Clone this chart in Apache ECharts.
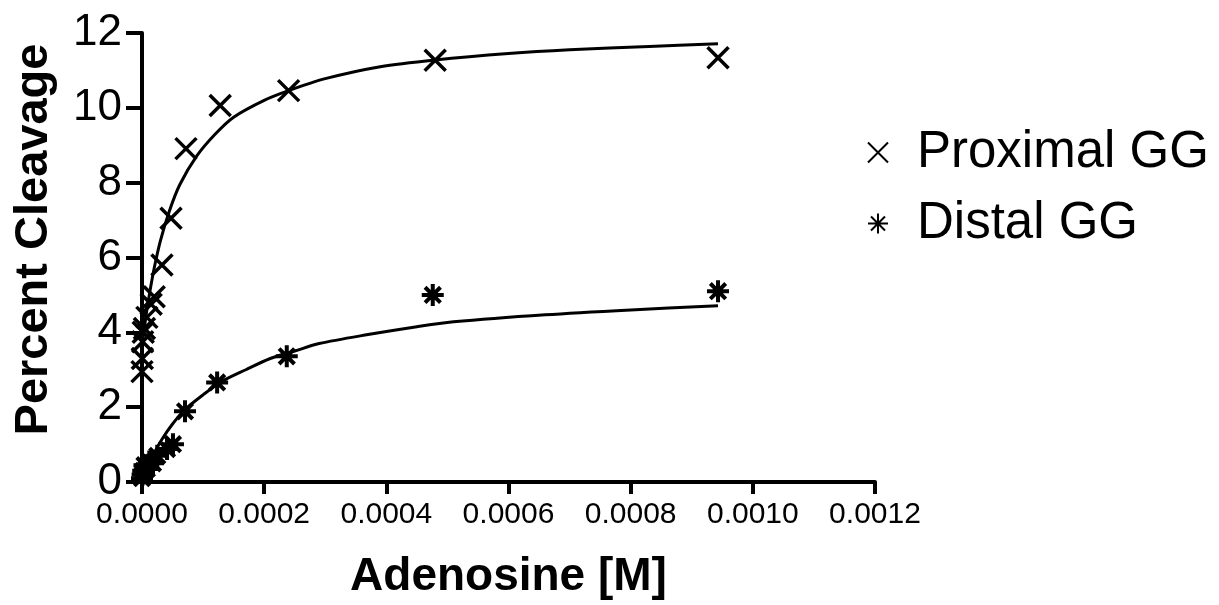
<!DOCTYPE html>
<html>
<head>
<meta charset="utf-8">
<style>
  html, body { margin: 0; padding: 0; background: #fff; }
  #chart { width: 1219px; height: 605px; }
</style>
<script src="https://cdn.jsdelivr.net/npm/echarts@6/dist/echarts.min.js"></script>
</head>
<body>
<div id="chart"></div>
<script>
// Adenosine concentration (M) and percent cleavage, measured points
const proximalX = [0, 0.0000005, 0.000001, 0.000002, 0.000004, 0.000008, 0.000015, 0.00002, 0.0000327, 0.0000475, 0.000072, 0.000128, 0.00024, 0.00048, 0.000943];
const proximalY = [2.95, 3.3, 3.75, 4.0, 4.1, 4.4, 4.75, 4.95, 5.8, 7.05, 8.91, 10.06, 10.46, 11.27, 11.34];

const distalX = [0, 0.000001, 0.000002, 0.000004, 0.000008, 0.000012, 0.000018, 0.000025, 0.000041, 0.0000507, 0.0000704, 0.000123, 0.000237, 0.000476, 0.000943];
const distalY = [0.1, 0.2, 0.3, 0.45, 0.35, 0.55, 0.5, 0.7, 0.88, 1.01, 1.89, 2.66, 3.36, 5.0, 5.1];

// Saturation fit curves
const proximalFitX = [0, 0.000004, 0.000008, 0.000013, 0.00002, 0.00003, 0.000045, 0.000062, 0.00009, 0.00012, 0.00015, 0.0002, 0.00024, 0.0003, 0.00039, 0.00048, 0.0006, 0.0007, 0.00083, 0.000943];
const proximalFitY = [3.6, 4.13, 4.6, 5.1, 5.72, 6.44, 7.25, 7.95, 8.72, 9.3, 9.75, 10.2, 10.46, 10.78, 11.1, 11.28, 11.45, 11.55, 11.64, 11.71];

const distalFitX = [0, 0.000005, 0.00001, 0.00002, 0.000033, 0.00005, 0.00007, 0.0001, 0.00013, 0.00017, 0.00021, 0.00025, 0.00029, 0.00037, 0.00045, 0.00051, 0.00066, 0.0008, 0.000943];
const distalFitY = [0, 0.22, 0.42, 0.78, 1.15, 1.55, 1.93, 2.33, 2.68, 3.0, 3.3, 3.5, 3.7, 3.94, 4.15, 4.28, 4.47, 4.6, 4.71];

const xTicks = { min: 0, max: 0.0012, interval: 0.0002 };
const yTicks = { min: 0, max: 12, interval: 2 };

const pairs = (xs, ys) => xs.map((x, i) => [x, ys[i]]);

const CROSS = 'path://M0 0 L10 10 M10 0 L0 10';
const STAR = 'path://M5 0 L5 10 M0 5 L10 5 M1.5 1.5 L8.5 8.5 M8.5 1.5 L1.5 8.5';
const FONT = 'Arial, "Liberation Sans", sans-serif';

const chart = echarts.init(document.getElementById('chart'), null, { renderer: 'canvas' });

chart.setOption({
  animation: false,
  backgroundColor: '#fff',
  textStyle: { fontFamily: FONT, color: '#000' },
  grid: { left: 142, right: 344, top: 33, bottom: 122, containLabel: false },
  legend: {
    data: ['Proximal GG', 'Distal GG'],
    orient: 'vertical',
    left: 862,
    top: 122,
    itemWidth: 20,
    itemHeight: 20,
    itemGap: 20,
    textStyle: { fontFamily: FONT, fontSize: 51, color: '#000', padding: [0, 0, 0, 24] },
    selectedMode: false
  },
  xAxis: {
    type: 'value',
    min: xTicks.min, max: xTicks.max, interval: xTicks.interval,
    name: 'Adenosine [M]',
    nameLocation: 'middle',
    nameGap: 72,
    nameTextStyle: { fontFamily: FONT, fontSize: 46, fontWeight: 'bold', color: '#000' },
    axisLine: { show: true, onZero: false, lineStyle: { color: '#000', width: 4 } },
    axisTick: { show: true, inside: false, length: 12, lineStyle: { color: '#000', width: 4 } },
    axisLabel: { fontFamily: FONT, fontSize: 30, color: '#000', margin: 18,
                 formatter: v => v.toFixed(4) },
    splitLine: { show: false }
  },
  yAxis: {
    type: 'value',
    min: yTicks.min, max: yTicks.max, interval: yTicks.interval,
    name: 'Percent Cleavage',
    nameLocation: 'middle',
    nameGap: 84,
    nameRotate: 90,
    nameTextStyle: { fontFamily: FONT, fontSize: 47, fontWeight: 'bold', color: '#000', padding: [0, 0, 0, 36] },
    axisLine: { show: true, onZero: false, lineStyle: { color: '#000', width: 4 } },
    axisTick: { show: true, inside: false, length: 16, lineStyle: { color: '#000', width: 4 } },
    axisLabel: { fontFamily: FONT, fontSize: 44, color: '#000', margin: 20 },
    splitLine: { show: false }
  },
  series: [
    {
      name: 'Proximal fit',
      type: 'line',
      data: pairs(proximalFitX, proximalFitY),
      smooth: 0.3,
      showSymbol: false,
      symbol: 'none',
      lineStyle: { color: '#000', width: 3 },
      z: 2
    },
    {
      name: 'Distal fit',
      type: 'line',
      data: pairs(distalFitX, distalFitY),
      smooth: 0.3,
      showSymbol: false,
      symbol: 'none',
      lineStyle: { color: '#000', width: 3 },
      z: 2
    },
    {
      name: 'Proximal GG',
      type: 'scatter',
      data: pairs(proximalX, proximalY),
      symbol: CROSS,
      symbolSize: 21,
      itemStyle: { color: 'transparent', borderColor: '#000', borderWidth: 3.5, opacity: 1 },
      z: 3
    },
    {
      name: 'Distal GG',
      type: 'scatter',
      data: pairs(distalX, distalY),
      symbol: STAR,
      symbolSize: 22,
      itemStyle: { color: 'transparent', borderColor: '#000', borderWidth: 4, opacity: 1 },
      z: 3
    }
  ]
});
</script>
</body>
</html>
